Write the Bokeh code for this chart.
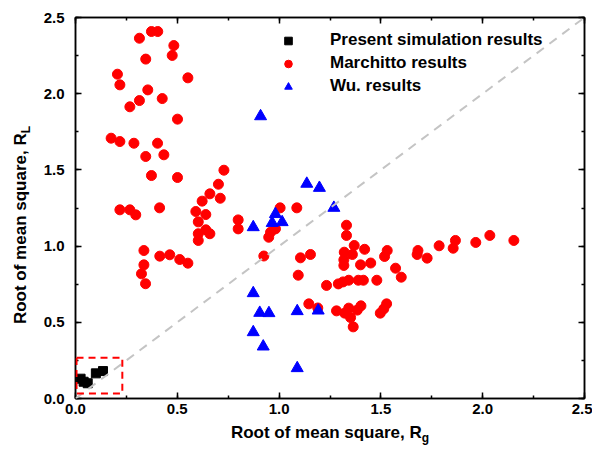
from bokeh.plotting import figure
from bokeh.layouts import row, column
from bokeh.models import (Range1d, LinearAxis, SingleIntervalTicker, NumeralTickFormatter,
                          Legend, LegendItem, BoxAnnotation, Slope, Div)
from bokeh.embed import file_html
from bokeh.resources import INLINE

# Present simulation results
present_x = [0.025, 0.040, 0.060, 0.100, 0.135]
present_y = [0.130, 0.110, 0.100, 0.165, 0.180]

# Marchitto results
march_x = [0.314, 0.373, 0.404, 0.483, 0.475, 0.345, 0.206, 0.218, 0.552, 0.355,
           0.314, 0.267, 0.426, 0.501, 0.175, 0.218, 0.287, 0.403, 0.345, 0.434,
           0.373, 0.501, 0.729, 0.702, 0.660, 0.711, 0.622, 0.218, 0.267, 0.296,
           0.413, 0.591, 0.640, 0.603, 0.799, 0.799, 0.640, 0.660, 0.603, 0.603,
           1.005, 1.087, 0.982, 0.958, 0.949, 0.925,
           0.336, 0.336, 0.324, 0.344, 0.414, 0.463, 0.512, 0.552,
           1.105, 1.154, 1.094, 1.331, 1.331, 1.369, 1.420, 1.320, 1.360, 1.318,
           1.318, 1.400, 1.450, 1.531, 1.518, 1.572, 1.600, 1.682, 1.678, 1.727,
           1.786, 1.866, 1.855, 1.966, 2.035, 2.153,
           1.233, 1.291, 1.314, 1.342, 1.389, 1.414, 1.480,
           1.146, 1.190, 1.282, 1.322, 1.342, 1.351, 1.384, 1.402, 1.364, 1.497,
           1.514, 1.528]
march_y = [2.364, 2.408, 2.408, 2.316, 2.251, 2.227, 2.128, 2.058, 2.104, 2.025,
           1.955, 1.914, 1.968, 1.833, 1.708, 1.686, 1.675, 1.675, 1.588, 1.599,
           1.463, 1.450, 1.498, 1.406, 1.343, 1.314, 1.295, 1.238, 1.238, 1.205,
           1.251, 1.227, 1.207, 1.159, 1.172, 1.113, 1.107, 1.081, 1.081, 1.037,
           1.251, 1.251, 1.113, 1.091, 1.058, 0.935,
           0.971, 0.877, 0.818, 0.753, 0.934, 0.943, 0.912, 0.888,
           0.923, 0.945, 0.809, 1.137, 1.070, 1.004, 0.979, 0.960, 0.945, 0.910,
           0.873, 0.877, 0.889, 0.971, 0.932, 0.855, 0.796, 0.971, 0.945, 0.921,
           1.002, 1.037, 0.986, 1.024, 1.070, 1.037,
           0.742, 0.752, 0.765, 0.776, 0.776, 0.776, 0.776,
           0.621, 0.594, 0.575, 0.560, 0.593, 0.531, 0.580, 0.608, 0.470, 0.560,
           0.588, 0.621]

# Wu. results
wu_x = [0.909, 1.136, 1.198, 1.269, 0.873, 0.982, 0.966, 1.015, 0.873, 0.905,
        0.950, 1.089, 1.192, 0.873, 0.922, 1.089]
wu_y = [1.852, 1.409, 1.382, 1.251, 1.124, 1.210, 1.152, 1.157, 0.691, 0.562,
        0.560, 0.573, 0.577, 0.435, 0.341, 0.199]

legend_labels = ["Present simulation results", "Marchitto results", "Wu. results"]
x_title, x_sub = "Root of mean square, R", "g"
y_title, y_sub = "Root of mean square, R", "L"

FONT = "Liberation Sans"

p = figure(width=552, height=418, output_backend="svg", toolbar_location=None,
           x_range=Range1d(0, 2.5), y_range=Range1d(0, 2.5),
           min_border_left=35, min_border_right=8, min_border_top=17, min_border_bottom=20)
p.xgrid.visible = False
p.ygrid.visible = False
p.outline_line_color = "black"
p.outline_line_width = 1.5
p.background_fill_color = "white"
p.border_fill_color = "white"


def style_axis(ax, show_labels=True):
    ax.ticker = SingleIntervalTicker(interval=0.5, num_minor_ticks=2)
    ax.formatter = NumeralTickFormatter(format="0.0")
    ax.axis_line_color = "black"
    ax.axis_line_width = 1.5
    ax.major_tick_in = 6
    ax.major_tick_out = 0
    ax.minor_tick_in = 3
    ax.minor_tick_out = 0
    ax.major_tick_line_width = 1.5
    ax.minor_tick_line_width = 1.5
    ax.major_tick_line_color = "black"
    ax.minor_tick_line_color = "black"
    ax.major_label_text_font = FONT
    ax.major_label_text_font_style = "bold"
    ax.axis_label_standoff = 0
    if show_labels:
        ax.major_label_text_font_size = "15px"
        ax.major_label_text_color = "black"
    else:
        ax.major_label_text_font_size = "1px"
        ax.major_label_text_color = None
        ax.major_label_standoff = 0


style_axis(p.xaxis[0])
style_axis(p.yaxis[0])
p.xaxis[0].major_label_standoff = 5
p.yaxis[0].major_label_standoff = 11

top_ax = LinearAxis()
style_axis(top_ax, show_labels=False)
p.add_layout(top_ax, "above")
right_ax = LinearAxis()
style_axis(right_ax, show_labels=False)
p.add_layout(right_ax, "right")

# diagonal reference line
p.add_layout(Slope(gradient=1, y_intercept=0, line_color="#c4c4c4",
                   line_dash="9 7", line_width=2))

# red dashed box around present results
p.add_layout(BoxAnnotation(left=0.005, right=0.23, bottom=0.033, top=0.268,
                           fill_alpha=0, line_color="red", line_dash="7 5",
                           line_width=2, line_alpha=1))

r_march = p.scatter(march_x, march_y, marker="circle", size=10,
                    fill_color="red", line_color="red")
r_wu = p.scatter(wu_x, wu_y, marker="triangle", size=12,
                 fill_color="blue", line_color="blue")
r_present = p.scatter(present_x, present_y, marker="square", size=9,
                      fill_color="black", line_color="black")

legend = Legend(items=[LegendItem(label=legend_labels[0], renderers=[r_present]),
                       LegendItem(label=legend_labels[1], renderers=[r_march]),
                       LegendItem(label=legend_labels[2], renderers=[r_wu])],
                location=(203, 302), border_line_color=None,
                background_fill_alpha=0, label_text_font=FONT,
                label_text_color="black",
                label_text_font_style="bold", label_text_font_size="17px",
                glyph_width=20, glyph_height=19, label_height=19, spacing=3,
                padding=5, label_standoff=32, margin=0)
p.add_layout(legend)

label_css = ("position:absolute;white-space:nowrap;font-family:'Liberation Sans';"
             "font-weight:bold;font-size:17px;color:black;line-height:1;")
sub_css = "font-size:12px;vertical-align:-4px;line-height:1;"

y_div = Div(width=40, height=418, margin=0,
            text=('<div style="position:relative;width:0;height:0;">'
                  f'<div style="{label_css}left:22px;top:213px;'
                  'transform:translate(-50%,-50%) rotate(-90deg);">'
                  f'{y_title}<span style="{sub_css}">{y_sub}</span></div></div>'))
x_div = Div(width=592, height=43, margin=0,
            text=('<div style="position:relative;width:0;height:0;">'
                  f'<div style="{label_css}left:330px;top:4px;'
                  'transform:translate(-50%,-50%);">'
                  f'{x_title}<span style="{sub_css}">{x_sub}</span></div></div>'))

layout = column(row(y_div, p, spacing=0), x_div, spacing=0)

open("out.html", "w").write(file_html(layout, INLINE))
